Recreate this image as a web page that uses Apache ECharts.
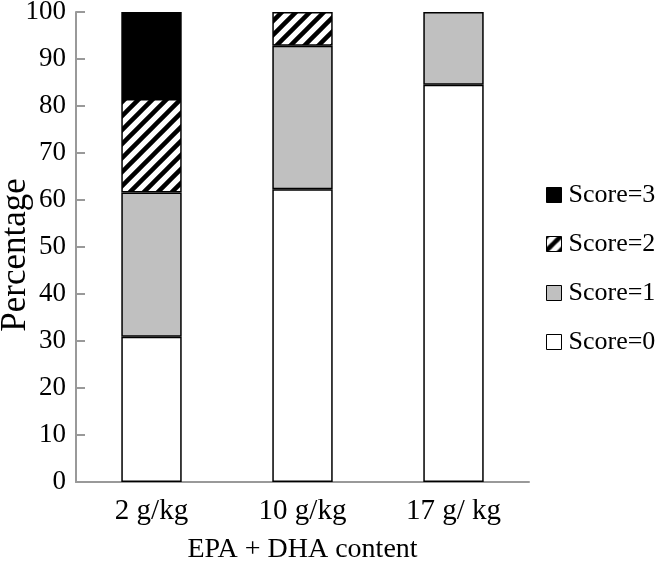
<!DOCTYPE html>
<html>
<head>
<meta charset="utf-8">
<script src="https://cdn.jsdelivr.net/npm/echarts@6/dist/echarts.min.js"></script>
<style>
  html, body { margin: 0; padding: 0; background: #fff; }
  #chart { width: 657px; height: 565px; }
</style>
</head>
<body>
<div id="chart"></div>
<script>
  // 数据
  var categories = ['2 g/kg', '10 g/kg', '17 g/ kg'];
  var score0 = [30.9, 62.3, 84.5];
  var score1 = [30.7, 30.5, 15.5];
  var score2 = [19.9, 7.2, 0];
  var score3 = [18.5, 0, 0];
  var yTicks = [0, 10, 20, 30, 40, 50, 60, 70, 80, 90, 100];

  var font = 'Liberation Serif, Times New Roman, serif';

  // 斜线填充
  function hatch() {
    var c = document.createElement('canvas');
    c.width = 14; c.height = 14;
    var ctx = c.getContext('2d');
    ctx.fillStyle = '#fff';
    ctx.fillRect(0, 0, 14, 14);
    ctx.strokeStyle = '#000';
    ctx.lineWidth = 4.5;
    ctx.beginPath();
    ctx.moveTo(-7, 7); ctx.lineTo(7, -7);
    ctx.moveTo(0, 14); ctx.lineTo(14, 0);
    ctx.moveTo(7, 21); ctx.lineTo(21, 7);
    ctx.stroke();
    return c;
  }

  function noZero(arr) {
    return arr.map(function (v) { return v === 0 ? '-' : v; });
  }

  function bar(name, data, color) {
    return {
      name: name,
      type: 'bar',
      stack: 'total',
      barWidth: '40%',
      data: noZero(data),
      itemStyle: { color: color, borderColor: '#000', borderWidth: 1.5 }
    };
  }

  var myChart = echarts.init(document.getElementById('chart'));
  var option = {
    animation: false,
    textStyle: { fontFamily: font, color: '#000' },
    grid: { left: 76, right: 128, top: 12, bottom: 83, containLabel: false, outerBoundsMode: 'none' },
    legend: {
      orient: 'vertical',
      left: 541,
      top: 177,
      icon: 'rect',
      itemWidth: 15,
      itemHeight: 15,
      itemGap: 23,
      itemStyle: { borderColor: '#000', borderWidth: 1 },
      textStyle: { fontFamily: font, fontSize: 26, color: '#000', padding: [0, 0, 0, 2] },
      data: ['Score=3', 'Score=2', 'Score=1', 'Score=0']
    },
    xAxis: {
      type: 'category',
      data: categories,
      name: 'EPA + DHA content',
      nameLocation: 'middle',
      nameGap: 54,
      nameTextStyle: { fontFamily: font, fontSize: 28, color: '#000' },
      axisLine: { lineStyle: { color: '#999', width: 2 } },
      axisTick: { inside: true, length: 9, lineStyle: { color: '#999', width: 2 } },
      axisLabel: { fontFamily: font, fontSize: 29, color: '#000', margin: 15 }
    },
    yAxis: {
      type: 'value',
      min: yTicks[0],
      max: yTicks[yTicks.length - 1],
      interval: 10,
      name: 'Percentage',
      nameLocation: 'middle',
      nameGap: 43,
      nameMoveOverlap: false,
      nameTextStyle: { fontFamily: font, fontSize: 35, color: '#000', padding: [0, 0, 0, -16] },
      axisLine: { show: true, lineStyle: { color: '#999', width: 2 } },
      axisTick: { show: true, inside: true, length: 9, lineStyle: { color: '#999', width: 2 } },
      axisLabel: { fontFamily: font, fontSize: 27, color: '#000', margin: 10 },
      splitLine: { show: false }
    },
    series: [
      bar('Score=0', score0, '#fff'),
      bar('Score=1', score1, '#c0c0c0'),
      bar('Score=2', score2, { image: hatch(), repeat: 'repeat' }),
      bar('Score=3', score3, '#000')
    ]
  };
  myChart.setOption(option);
</script>
</body>
</html>
